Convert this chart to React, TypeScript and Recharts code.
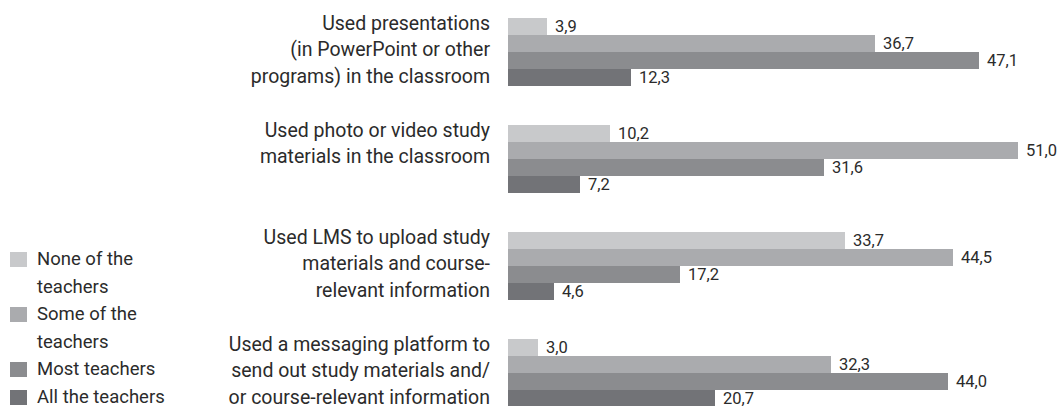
import React from 'react';
import { BarChart, Bar, XAxis, YAxis, LabelList } from 'recharts';

// category labels, one entry per line
const categoryLines = [
  ['Used presentations', '(in PowerPoint or other', 'programs) in the classroom'],
  ['Used photo or video study', 'materials in the classroom'],
  ['Used LMS to upload study', 'materials and course-', 'relevant information'],
  ['Used a messaging platform to', 'send out study materials and/', 'or course-relevant information'],
];

const noneValues = [3.9, 10.2, 33.7, 3.0];
const someValues = [36.7, 51.0, 44.5, 32.3];
const mostValues = [47.1, 31.6, 17.2, 44.0];
const allValues = [12.3, 7.2, 4.6, 20.7];

const seriesKeys = ['none', 'some', 'most', 'all'];
const seriesNames = ['None of the teachers', 'Some of the teachers', 'Most teachers', 'All the teachers'];
const legendLines = [['None of the', 'teachers'], ['Some of the', 'teachers'], ['Most teachers'], ['All the teachers']];
const colors = ['#c8c9cb', '#aaabae', '#8b8c8f', '#727377'];

const data = categoryLines.map((lines, i) => ({
  name: lines.join(' '),
  none: noneValues[i],
  some: someValues[i],
  most: mostValues[i],
  all: allValues[i],
}));

const FONT = "Roboto, 'Liberation Sans', sans-serif";
const TEXT = '#2b2b2b';

const fmt = (v: any) => Number(v).toFixed(1).replace('.', ',');

const CategoryTick = (props: any) => {
  const { x, y, index } = props;
  const lines = categoryLines[index] || [];
  return (
    <text x={x - 10} y={y - 22} textAnchor="end" fill={TEXT} fontSize={19.5} fontFamily={FONT}>
      {lines.map((l, i) => (
        <tspan key={i} x={x - 10} dy={i === 0 ? 0 : 26.5}>{l}</tspan>
      ))}
    </text>
  );
};

const LegendBlock = () => (
  <div style={{ position: 'absolute', left: 10, top: 246, width: 200, fontFamily: FONT, fontSize: 18.5, color: TEXT, lineHeight: '27.6px' }}>
    {legendLines.map((lines, i) => (
      <div key={i} style={{ position: 'relative', paddingLeft: 27 }} title={seriesNames[i]}>
        <span style={{ position: 'absolute', left: 0, top: 6, width: 17, height: 15, background: colors[i] }} />
        {lines.map((l, j) => (
          <div key={j}>{l}</div>
        ))}
      </div>
    ))}
  </div>
);

export default function App() {
  return (
    <div style={{ position: 'absolute', left: 0, top: 0, width: 1058, height: 406, overflow: 'hidden', background: '#fff' }}>
      <div style={{ position: 'absolute', left: 0, top: -2 }}>
        <BarChart
          width={1058}
          height={428}
          data={data}
          layout="vertical"
          margin={{ top: 0, right: 0, bottom: 0, left: 0 }}
          barGap={0}
          barSize={17}
        >
          <XAxis type="number" domain={[0, 55]} hide />
          <YAxis type="category" dataKey="name" width={508} axisLine={false} tickLine={false} tick={<CategoryTick />} interval={0} />
          {seriesKeys.map((k, i) => (
            <Bar key={k} dataKey={k} name={seriesNames[i]} fill={colors[i]} isAnimationActive={false}>
              <LabelList dataKey={k} position="right" offset={8} formatter={fmt} fill={TEXT} fontSize={16.5} fontFamily={FONT} />
            </Bar>
          ))}
        </BarChart>
      </div>
      <LegendBlock />
    </div>
  );
}
